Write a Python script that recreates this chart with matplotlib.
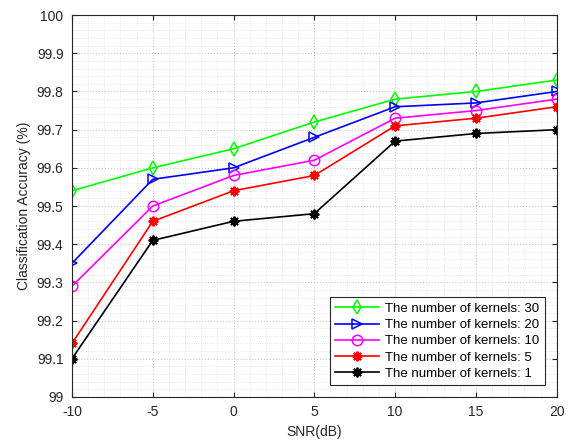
import numpy as np
import matplotlib
matplotlib.use("Agg")
import matplotlib.pyplot as plt
from matplotlib.ticker import MultipleLocator

plt.rcParams["font.family"] = ["Liberation Sans", "DejaVu Sans"]
plt.rcParams["font.size"] = 10
plt.rcParams["axes.unicode_minus"] = False

# data
snr = [-10, -5, 0, 5, 10, 15, 20]
acc_30 = [99.54, 99.60, 99.65, 99.72, 99.78, 99.80, 99.83]
acc_20 = [99.35, 99.57, 99.60, 99.68, 99.76, 99.77, 99.80]
acc_10 = [99.29, 99.50, 99.58, 99.62, 99.73, 99.75, 99.78]
acc_5 = [99.14, 99.46, 99.54, 99.58, 99.71, 99.73, 99.76]
acc_1 = [99.10, 99.41, 99.46, 99.48, 99.67, 99.69, 99.70]
labels = [
    "The number of kernels: 30",
    "The number of kernels: 20",
    "The number of kernels: 10",
    "The number of kernels: 5",
    "The number of kernels: 1",
]

fig = plt.figure(figsize=(5.71, 4.45), dpi=100)
ax = fig.add_axes([0.126, 0.108, 0.849, 0.858])

series = [acc_30, acc_20, acc_10, acc_5, acc_1]
colors = ["#00ff00", "#0000ff", "#ff00ff", "#ff0000", "#000000"]
markers = ["d", ">", "o", (8, 2, 0), (8, 2, 0)]
for vals, col, mk, lab in zip(series, colors, markers, labels):
    if isinstance(mk, tuple):
        ax.plot(snr, vals, color=col, marker=mk, markersize=7, lw=1.2,
                markeredgewidth=1.4, label=lab)
    else:
        ax.plot(snr, vals, color=col, marker=mk, markersize=7.5, lw=1.2,
                markerfacecolor="none", markeredgewidth=1.1, label=lab)

ax.set_xlim(-10, 20)
ax.set_ylim(99, 100)
ax.xaxis.set_major_locator(MultipleLocator(5))
ax.xaxis.set_minor_locator(MultipleLocator(1))
ax.yaxis.set_major_locator(MultipleLocator(0.1))
ax.yaxis.set_minor_locator(MultipleLocator(0.02))
ax.set_yticks(np.arange(99, 100.01, 0.1))
ax.set_yticklabels([f"{v:g}" for v in np.round(np.arange(99, 100.01, 0.1), 1)])
ax.grid(True, which="major", ls=":", color="#c8c8c8", lw=0.8)
ax.grid(True, which="minor", ls=":", color="#e0e0e0", lw=0.6)
ax.tick_params(which="both", direction="in", colors="#262626", top=True, right=True,
               pad=6, labelcolor="#262626")
ax.tick_params(which="minor", length=0)
for sp in ax.spines.values():
    sp.set_color("#262626")
    sp.set_linewidth(0.8)

ax.set_xlabel("SNR(dB)", color="#262626")
ax.set_ylabel("Classification Accuracy (%)", color="#262626")

leg = ax.legend(loc="lower right", fancybox=False, framealpha=1,
                edgecolor="#262626", borderpad=0.4, labelspacing=0.3,
                handlelength=3.3, handletextpad=0.5, fontsize=9.5,
                borderaxespad=0.9)
leg.get_frame().set_linewidth(0.8)

fig.savefig("out.png", dpi=100)
